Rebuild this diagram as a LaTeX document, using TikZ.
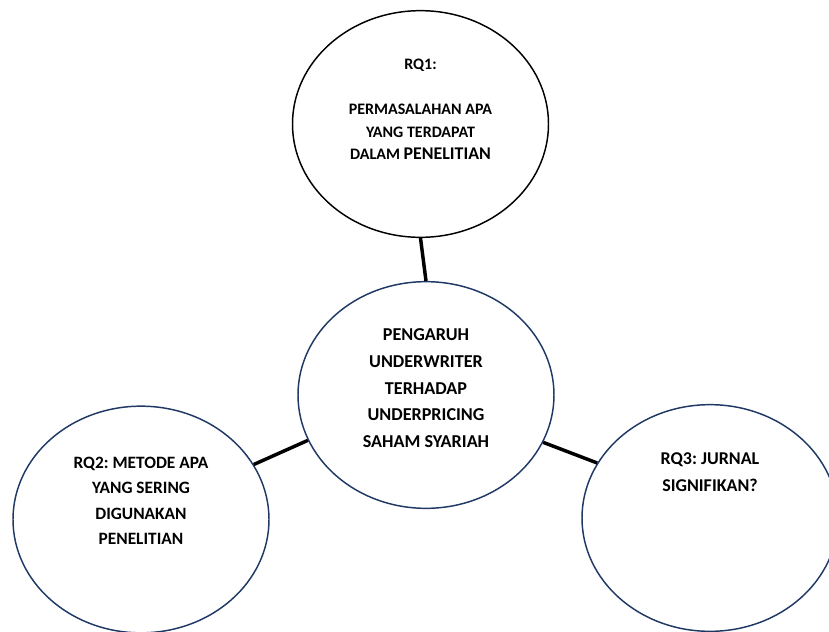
\documentclass[tikz,border=0pt]{standalone}
\usepackage{fontspec}
\setmainfont{Carlito}
\usetikzlibrary{shapes.geometric}
\definecolor{ringblue}{HTML}{1F3864}
\frenchspacing
\begin{document}
\begin{tikzpicture}[x=0.75pt,y=-0.75pt,
    bubble/.style={draw=ringblue,line width=1.1pt,ellipse,minimum width=192pt,minimum height=170pt},
    qtext/.style={align=center,font=\bfseries\fontsize{13}{19}\selectfont},
    link/.style={line width=2.6pt}]
    \useasboundingbox (0,0) rectangle (829,632);
    \node[bubble,draw=black] (rq1) at (420.5,124) {};
    \node[bubble] (main) at (426,395) {};
    \node[bubble] (rq2) at (141,519.5) {};
    \node[bubble] (rq3) at (710,518) {};
    \node[qtext,font=\bfseries\fontsize{12}{17}\selectfont] (rq1txt) at ([yshift=11pt]rq1.center) {RQ1:\\[17pt] PERMASALAHAN APA\\ YANG TERDAPAT\\ DALAM {\fontsize{13.4}{17}\selectfont PENELITIAN}};
    \node[qtext,font=\bfseries\fontsize{13.6}{20}\selectfont] (maintxt) at ([yshift=5pt]main.center) {PENGARUH\\ UNDERWRITER\\ TERHADAP\\ UNDERPRICING\\ SAHAM SYARIAH};
    \node[qtext] (rq2txt) at ([yshift=14pt]rq2.center) {RQ2: METODE APA\\ YANG SERING\\ DIGUNAKAN\\ PENELITIAN};
    \node[qtext,font=\bfseries\fontsize{13.5}{20.5}\selectfont] (rq3txt) at ([yshift=34.5pt]rq3.center) {RQ3: JURNAL\\ SIGNIFIKAN?};
    \draw[link] (rq1.south) -- (main.north);
    \draw[link] (rq2.26) -- (main.201.5);
    \draw[link] (main.338) -- (rq3.154.7);
\end{tikzpicture}
\end{document}
